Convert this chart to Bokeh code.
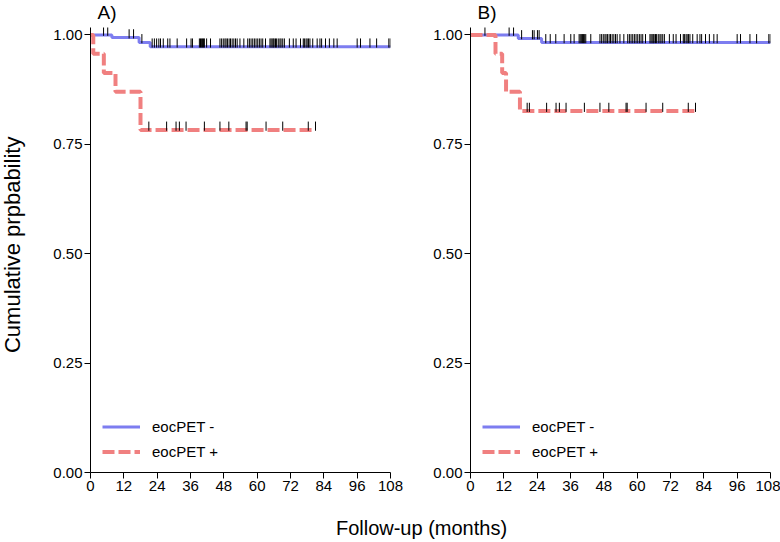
import numpy as np
from math import pi
from bokeh.plotting import figure
from bokeh.models import (Range1d, Label, Legend, LegendItem, FixedTicker,
                          NumeralTickFormatter)
from bokeh.layouts import row, column
from bokeh.embed import file_html
from bokeh.resources import INLINE

# ---------------- data ----------------
x_ticks = [0, 12, 24, 36, 48, 60, 72, 84, 96, 108]
y_ticks = [0.0, 0.25, 0.50, 0.75, 1.00]
series_labels = ["eocPET -", "eocPET +"]
panel_labels = ["A)", "B)"]
x_title = "Follow-up (months)"
y_title = "Cumulative prpbability"

# Panel A
A_neg_times = [0, 7.7, 17.5, 21.5, 108]
A_neg_surv = [1.0, 0.994, 0.983, 0.973, 0.973]
A_neg_cens = [4.7, 6.2, 13.9, 15.5, 18.5, 22.2, 23.0, 23.8, 24.6, 25.2, 26.2, 27.8, 28.6,
              31.2, 34.6, 36.2, 36.7, 39.2, 39.6, 40.0, 40.3, 40.7, 41.0, 41.8, 43.2, 46.6,
              47.2, 47.8, 48.4, 48.8, 49.3, 49.9, 50.4, 51.0, 51.6, 52.2, 52.8, 53.8, 55.2,
              56.6, 57.2, 57.8, 58.4, 59.0, 59.6, 60.2, 60.8, 61.4, 62.0, 63.0, 64.6, 65.0,
              65.4, 65.8, 66.1, 66.6, 67.0, 67.6, 68.2, 68.6, 69.2, 69.8, 71.6, 73.0, 74.0,
              75.6, 76.6, 77.0, 77.6, 78.0, 78.5, 79.0, 80.0, 81.6, 82.6, 83.2, 84.6, 86.0,
              87.6, 88.8, 96.0, 97.2, 100.6, 103.0, 107.4, 107.9]
A_pos_times = [0, 1.0, 4.8, 9.0, 18.0, 81.0]
A_pos_surv = [1.0, 0.957, 0.913, 0.870, 0.783, 0.783]
A_pos_cens = [21.0, 27.4, 30.8, 32.0, 34.4, 41.0, 46.6, 49.8, 56.0, 56.4, 63.2, 69.2,
              78.4, 81.0]

# Panel B
B_neg_times = [0, 17.2, 25.6, 108]
B_neg_surv = [1.0, 0.992, 0.983, 0.983]
B_neg_cens = [5.2, 13.9, 15.5, 18.4, 22.3, 22.9, 24.1, 24.7, 27.1, 28.7, 30.7, 33.7, 36.1,
              37.3, 39.1, 39.5, 39.9, 40.3, 40.7, 41.1, 41.5, 43.3, 46.6, 47.2, 47.8, 48.4,
              48.8, 49.3, 49.9, 50.4, 51.0, 51.6, 52.2, 52.8, 53.8, 55.2, 56.6, 57.2, 57.8,
              58.4, 59.0, 59.6, 60.2, 60.8, 61.4, 62.0, 63.0, 64.6, 65.0, 65.4, 65.8, 66.1,
              66.6, 67.0, 67.6, 68.2, 68.6, 69.2, 69.8, 71.6, 73.0, 74.0, 75.6, 76.6, 77.0,
              77.6, 78.0, 78.5, 79.0, 80.0, 81.6, 82.6, 83.2, 84.6, 86.0, 87.6, 88.8, 96.0,
              97.2, 100.6, 103.0, 107.4, 107.9]
B_pos_times = [0, 9.0, 11.4, 12.8, 17.8, 81.0]
B_pos_surv = [1.0, 0.957, 0.913, 0.870, 0.826, 0.826]
B_pos_cens = [20.4, 21.2, 27.4, 30.8, 32.0, 34.4, 41.0, 46.6, 49.8, 56.0, 56.4, 63.2,
              69.2, 78.4, 81.0]

# ---------------- style ----------------
BLUE = "#7d7df0"
PINK = "#f08080"
FONT = "Liberation Sans"
TICK_H = 0.019
PANEL_H = 473
TOP_H = 27
BOTTOM_H = 42
YLAB_W = 40


def surv_at(times, surv, t):
    idx = np.searchsorted(np.asarray(times), np.asarray(t), side="right") - 1
    return np.asarray(surv)[idx]


def blank_fig(w, h):
    f = figure(width=w, height=h, x_range=Range1d(0, w), y_range=Range1d(0, h),
               output_backend="svg", toolbar_location=None,
               x_axis_type=None, y_axis_type=None, min_border=0)
    f.outline_line_color = None
    f.grid.visible = False
    return f


def make_panel(neg_t, neg_s, neg_c, pos_t, pos_s, pos_c, b_left, b_right, frame_w):
    p = figure(width=b_left + frame_w + b_right, height=PANEL_H,
               x_range=Range1d(0, 108), y_range=Range1d(0, 1.017),
               output_backend="svg", toolbar_location=None,
               min_border_left=b_left, min_border_right=b_right,
               min_border_top=0, min_border_bottom=28)
    p.outline_line_color = None
    p.grid.visible = False
    p.background_fill_color = "white"

    for ax in (p.xaxis[0], p.yaxis[0]):
        ax.axis_line_color = "black"
        ax.axis_line_width = 1
        ax.major_tick_line_color = "black"
        ax.major_tick_in = 0
        ax.major_tick_out = 6
        ax.minor_tick_line_color = None
        ax.major_label_text_font = FONT
        ax.major_label_text_font_size = "15px"
        ax.major_label_text_color = "black"
        ax.major_label_standoff = 2
    p.xaxis.ticker = FixedTicker(ticks=x_ticks)
    p.yaxis.ticker = FixedTicker(ticks=y_ticks)
    p.yaxis.formatter = NumeralTickFormatter(format="0.00")

    r_neg = p.step(neg_t, neg_s, mode="after", line_color=BLUE, line_width=3)
    r_pos = p.step(pos_t, pos_s, mode="after", line_color=PINK, line_width=4,
                   line_dash="12 4")

    for c, t, s in ((neg_c, neg_t, neg_s), (pos_c, pos_t, pos_s)):
        ys = surv_at(t, s, c)
        p.segment(x0=c, y0=ys - 0.002, x1=c, y1=ys + TICK_H, line_color="black",
                  line_width=1)

    legend = Legend(items=[LegendItem(label=series_labels[0], renderers=[r_neg]),
                           LegendItem(label=series_labels[1], renderers=[r_pos])],
                    location=(12, 8))
    legend.border_line_color = None
    legend.background_fill_alpha = 0
    legend.padding = 0
    legend.margin = 0
    legend.spacing = 0
    legend.glyph_width = 38
    legend.glyph_height = 25
    legend.label_height = 25
    legend.label_standoff = 12
    legend.label_text_font = FONT
    legend.label_text_font_size = "15px"
    legend.label_text_color = "black"
    p.add_layout(legend)
    return p


pA = make_panel(A_neg_times, A_neg_surv, A_neg_cens,
                A_pos_times, A_pos_surv, A_pos_cens, 50, 40, 300)
pB = make_panel(B_neg_times, B_neg_surv, B_neg_cens,
                B_pos_times, B_pos_surv, B_pos_cens, 40, 10, 300)

total_w = YLAB_W + pA.width + pB.width

# strip above the panels with the panel letters
pTop = blank_fig(total_w, TOP_H)
for txt, xpos in zip(panel_labels, [97, 477]):
    pTop.add_layout(Label(x=xpos, y=15.5, text=txt, text_font=FONT, text_font_size="19px",
                          text_color="black", text_align="left",
                          text_baseline="middle"))

# strip left of the panels with the y title
pY = blank_fig(YLAB_W, PANEL_H)
pY.add_layout(Label(x=12, y=242, text=y_title, angle=pi / 2,
                    text_font=FONT, text_font_size="22px", text_color="black",
                    text_align="center", text_baseline="middle"))

# strip below with the x title
pX = blank_fig(total_w, BOTTOM_H)
pX.add_layout(Label(x=421, y=15, text=x_title, text_font=FONT, text_font_size="20px",
                    text_color="black", text_align="center", text_baseline="middle"))

layout = column(pTop, row(pY, pA, pB), pX)
open("out.html", "w").write(file_html(layout, INLINE))
